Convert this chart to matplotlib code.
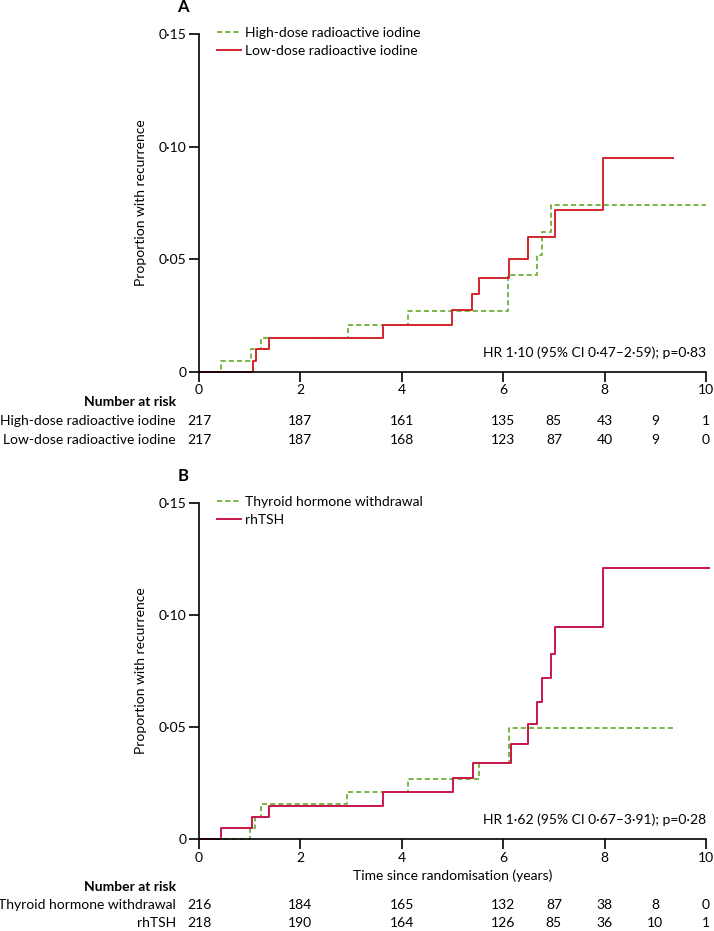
import numpy as np
import matplotlib.pyplot as plt
from matplotlib.transforms import blended_transform_factory

plt.rcParams['font.family'] = ['Lato', 'DejaVu Sans']
plt.rcParams['font.size'] = 10

# %% Data
# Panel A: radioactive iodine dose
a_high_t = [0, 0.43, 1.02, 1.23, 2.93, 4.12, 6.10, 6.66, 6.77, 6.95, 10.0]
a_high_y = [0, 0.005, 0.010, 0.015, 0.021, 0.027, 0.043, 0.052, 0.062, 0.074, 0.074]
a_low_t = [0, 1.06, 1.12, 1.38, 3.63, 4.99, 5.39, 5.52, 6.11, 6.49, 7.02, 7.97, 9.34]
a_low_y = [0, 0.005, 0.010, 0.015, 0.021, 0.0275, 0.0347, 0.0416, 0.050, 0.060, 0.0717, 0.095, 0.095]

# Panel B: TSH stimulation
b_thw_t = [0, 1.01, 1.10, 1.23, 2.92, 4.12, 5.53, 6.11, 9.35]
b_thw_y = [0, 0.005, 0.0097, 0.0158, 0.021, 0.027, 0.034, 0.0497, 0.0497]
b_rh_t = [0, 0.44, 1.05, 1.38, 3.63, 5.0, 5.40, 6.16, 6.49, 6.66, 6.77, 6.94, 7.02, 7.97, 10.05]
b_rh_y = [0, 0.005, 0.0098, 0.0147, 0.021, 0.0272, 0.034, 0.0425, 0.0513, 0.0613, 0.0717,
          0.0826, 0.0948, 0.121, 0.121]

risk_times = [0, 2, 4, 6, 7, 8, 9, 10]
a_risk_high = [217, 187, 161, 135, 85, 43, 9, 1]
a_risk_low = [217, 187, 168, 123, 87, 40, 9, 0]
b_risk_thw = [216, 184, 165, 132, 87, 38, 8, 0]
b_risk_rh = [218, 190, 164, 126, 85, 36, 10, 1]

a_labels = ['High-dose radioactive iodine', 'Low-dose radioactive iodine']
b_labels = ['Thyroid hormone withdrawal', 'rhTSH']
a_hr = 'HR 1·10 (95% CI 0·47–2·59); p=0·83'
b_hr = 'HR 1·62 (95% CI 0·67–3·91); p=0·28'

yticks = [0, 0.05, 0.10, 0.15]
ytick_labels = ['0', '0·05', '0·10', '0·15']
xticks = [0, 2, 4, 6, 8, 10]

green = '#7ab648'
red_a = '#d0262c'
red_b = '#c8164a'

# %% Figure
W, H = 714, 931
fig = plt.figure(figsize=(W / 100, H / 100), dpi=100)


def fy(px):
    return 1 - px / H


def fx(px):
    return px / W


def panel(top_px, bot_px, letter, t1, y1, t2, y2, red, labels, hr, risk1, risk2,
          risk_rows, xlabel=None):
    ax = fig.add_axes([fx(199), fy(bot_px), fx(706) - fx(199), fy(top_px) - fy(bot_px)])
    ax.step(t1, y1, where='post', color=green, ls=(0, (2.6, 1.6)), lw=1.4, label=labels[0],
            clip_on=False)
    ax.step(t2, y2, where='post', color=red, lw=1.4, label=labels[1], clip_on=False)
    ax.set_xlim(0, 10)
    ax.set_ylim(0, 0.15)
    for s in ['top', 'right']:
        ax.spines[s].set_visible(False)
    for s in ['left', 'bottom']:
        ax.spines[s].set_linewidth(1.2)
    ax.set_yticks(yticks)
    ax.set_yticklabels(ytick_labels)
    ax.set_xticks(xticks)
    ax.tick_params(length=7, width=1.2, pad=2, labelsize=10)
    ax.set_ylabel('Proportion with recurrence')
    ax.yaxis.set_label_coords((147 - 199) / (706 - 199), 0.5)
    ax.text(10, 0.0085, hr, ha='right', va='center')
    fig.text(fx(183), fy(top_px - 27), letter, fontweight='bold', fontsize=12,
             ha='center', va='center')
    ax.legend(loc='upper left', bbox_to_anchor=(fx(217), fy(top_px - 7)),
              bbox_transform=fig.transFigure, frameon=False, handlelength=1.7,
              handletextpad=0.35, borderpad=0, borderaxespad=0, labelspacing=0.45)
    if xlabel:
        ax.set_xlabel(xlabel, labelpad=4)
    tr = blended_transform_factory(ax.transData, fig.transFigure)
    nar_y, r1_y, r2_y = risk_rows
    fig.text(fx(176), fy(nar_y), 'Number at risk', fontweight='bold', ha='right',
             va='center')
    fig.text(fx(176), fy(r1_y), labels[0], ha='right', va='center')
    fig.text(fx(176), fy(r2_y), labels[1], ha='right', va='center')
    for t, n1, n2 in zip(risk_times, risk1, risk2):
        ax.text(t, fy(r1_y), str(n1), transform=tr, ha='center', va='center')
        ax.text(t, fy(r2_y), str(n2), transform=tr, ha='center', va='center')
    return ax


panel(34, 372, 'A', a_high_t, a_high_y, a_low_t, a_low_y, red_a, a_labels, a_hr,
      a_risk_high, a_risk_low, (402, 421, 440))
panel(503, 839, 'B', b_thw_t, b_thw_y, b_rh_t, b_rh_y, red_b, b_labels, b_hr,
      b_risk_thw, b_risk_rh, (887, 905, 923), xlabel='Time since randomisation (years)')

fig.savefig('out.png', dpi=100)
